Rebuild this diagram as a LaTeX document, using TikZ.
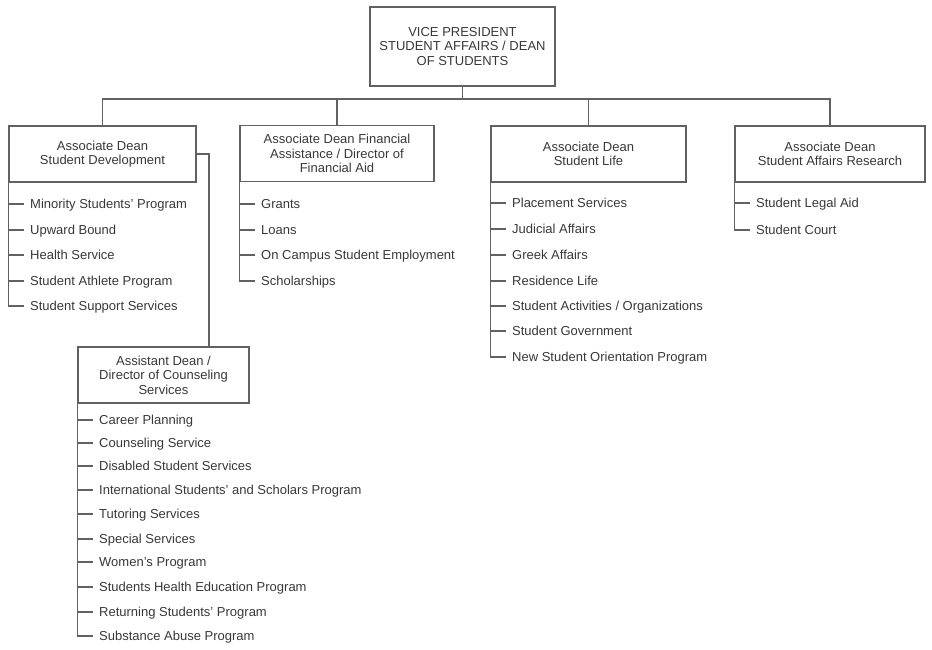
\documentclass[tikz,border=0pt]{standalone}
\usepackage{fontspec}
\setmainfont{Liberation Sans}
\usepackage{tikz}
\usetikzlibrary{positioning}
\usepackage{xcolor}
\definecolor{chartline}{gray}{0.38}
\definecolor{charttext}{gray}{0.22}

\begin{document}
\begin{tikzpicture}[
  x=1pt,y=-1pt,
  box/.style={draw=chartline,line width=1.2pt,align=center,text=charttext,
              minimum height=56pt,inner sep=2pt,
              font=\fontsize{13}{14.5}\selectfont},
  item/.style={anchor=west,inner xsep=6pt,inner ysep=0pt,text=charttext,
               text height=9.3pt,text depth=0pt,font=\fontsize{13}{14.5}\selectfont},
  link/.style={chartline,line width=1.1pt}
]
\useasboundingbox (0,0) rectangle (932,649);
% boxes
\node[box,minimum width=185pt,minimum height=79pt] (vp) at (462.5,46.5)
  {VICE PRESIDENT\\STUDENT AFFAIRS / DEAN\\OF STUDENTS};
\node[box,minimum width=187pt] (sd) at (102.5,154) {Associate Dean\\Student Development};
\node[box,minimum width=194pt] (fa) at (337,153.5) {Associate Dean Financial\\Assistance / Director of\\Financial Aid};
\node[box,minimum width=195pt] (sl) at (588.5,154) {Associate Dean\\Student Life};
\node[box,minimum width=190pt] (rs) at (830,154) {Associate Dean\\Student Affairs Research};
\node[box,minimum width=171pt] (ad) at (163.5,375) {Assistant Dean /\\Director of Counseling\\Services};
% top level links
\coordinate (bar) at (0,99);
\draw[link] (vp.south) -- (vp.south |- bar);
\draw[link] (sd.north) -- (sd.north |- bar) -| (rs.north);
\draw[link] (fa.north) -- (fa.north |- bar);
\draw[link] (sl.north) -- (sl.north |- bar);
\coordinate (adin) at (209,347);
\draw[link] (sd.east) -| (adin);

% Student Development
\node[item] (sd1) at (24,204) {Minority Students' Program};
\node[item] (sd2) at (24,230) {Upward Bound};
\node[item] (sd3) at (24,255) {Health Service};
\node[item] (sd4) at (24,281) {Student Athlete Program};
\node[item] (sd5) at (24,306) {Student Support Services};
\draw[link] (sd.south west) |- (sd5.west);
\foreach \i in {1,...,4} \draw[link] (sd.south west |- sd\i.west) -- (sd\i.west);

% Financial Aid
\node[item] (fa1) at (255,204) {Grants};
\node[item] (fa2) at (255,230) {Loans};
\node[item] (fa3) at (255,255) {On Campus Student Employment};
\node[item] (fa4) at (255,281) {Scholarships};
\draw[link] (fa.south west) |- (fa4.west);
\foreach \i in {1,...,3} \draw[link] (fa.south west |- fa\i.west) -- (fa\i.west);

% Student Life
\node[item] (sl1) at (506,203) {Placement Services};
\node[item] (sl2) at (506,229) {Judicial Affairs};
\node[item] (sl3) at (506,255) {Greek Affairs};
\node[item] (sl4) at (506,281) {Residence Life};
\node[item] (sl5) at (506,306) {Student Activities / Organizations};
\node[item] (sl6) at (506,331) {Student Government};
\node[item] (sl7) at (506,357) {New Student Orientation Program};
\draw[link] (sl.south west) |- (sl7.west);
\foreach \i in {1,...,6} \draw[link] (sl.south west |- sl\i.west) -- (sl\i.west);

% Research
\node[item] (rs1) at (750,203) {Student Legal Aid};
\node[item] (rs2) at (750,230) {Student Court};
\draw[link] (rs.south west) |- (rs2.west);
\draw[link] (rs.south west |- rs1.west) -- (rs1.west);

% Counseling Services
\node[item] (ad1) at (93,420) {Career Planning};
\node[item] (ad2) at (93,443) {Counseling Service};
\node[item] (ad3) at (93,466) {Disabled Student Services};
\node[item] (ad4) at (93,490) {International Students' and Scholars Program};
\node[item] (ad5) at (93,514) {Tutoring Services};
\node[item] (ad6) at (93,539) {Special Services};
\node[item] (ad7) at (93,562) {Women's Program};
\node[item] (ad8) at (93,587) {Students Health Education Program};
\node[item] (ad9) at (93,612) {Returning Students' Program};
\node[item] (ad10) at (93,636) {Substance Abuse Program};
\draw[link] (ad.south west) |- (ad10.west);
\foreach \i in {1,...,9} \draw[link] (ad.south west |- ad\i.west) -- (ad\i.west);
\end{tikzpicture}
\end{document}
